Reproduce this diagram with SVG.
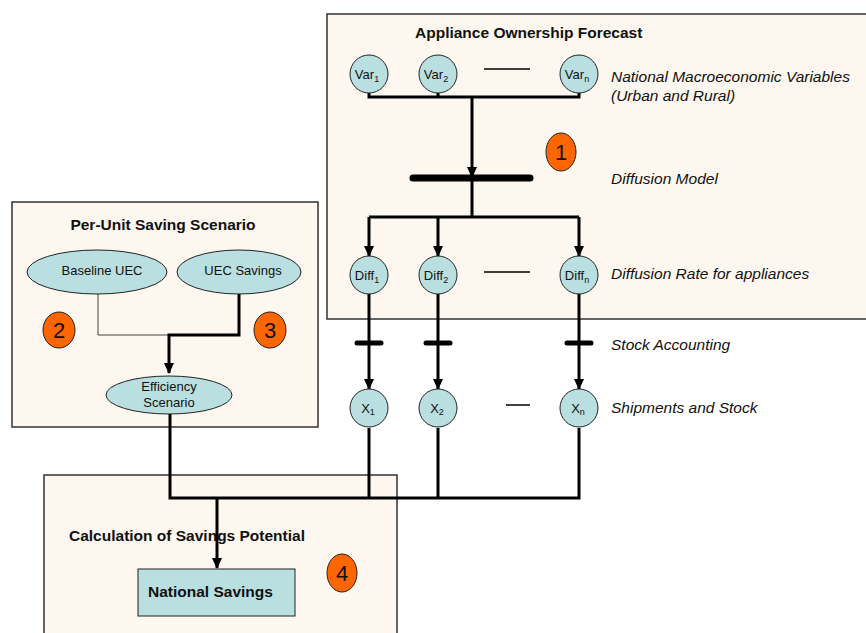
<svg xmlns="http://www.w3.org/2000/svg" width="866" height="633" viewBox="0 0 866 633">
<defs>
<marker id="ah" markerWidth="11" markerHeight="10" refX="10" refY="5" orient="auto" markerUnits="userSpaceOnUse" viewBox="0 0 11 10">
<path d="M0,0 L11,5 L0,10 Z" fill="#000"/>
</marker>
</defs>
<style>
.panel{fill:#fdf7ef;stroke:#333;stroke-width:1.5}
.node{fill:#b9dfe0;stroke:#222;stroke-width:1}
.badge{fill:#ff6600;stroke:#222;stroke-width:1}
.t{font-family:"Liberation Sans",Arial,sans-serif;fill:#111}
.title{font-size:15.5px;font-weight:bold}
.lbl{font-size:13px}
.it{font-size:15.5px;font-style:italic}
.num{font-size:22px}
.w{fill:none;stroke:#000;stroke-width:3}
.thin{fill:none;stroke:#444;stroke-width:1}
.bar{stroke:#000;stroke-width:7;stroke-linecap:round}
.sbar{stroke:#000;stroke-width:5;stroke-linecap:round}
.dash{stroke:#000;stroke-width:1.5}
</style>
<rect width="866" height="633" fill="#fff"/>

<g id="panel-forecast">
<rect class="panel" x="327" y="14" width="545" height="305"/>
<text class="t title" x="415" y="38">Appliance Ownership Forecast</text>
<text class="t it" x="611" y="82">National Macroeconomic Variables</text>
<text class="t it" x="611" y="101">(Urban and Rural)</text>
<text class="t it" x="611" y="184">Diffusion Model</text>
<text class="t it" x="611" y="279">Diffusion Rate for appliances</text>
</g>
<g id="panel-perunit">
<rect class="panel" x="12" y="202" width="306" height="225"/>
<text class="t title" x="163" y="230" text-anchor="middle">Per-Unit Saving Scenario</text>
</g>
<g id="panel-calc">
<rect class="panel" x="44" y="475" width="353" height="170"/>
<text class="t title" x="69" y="541">Calculation of Savings Potential</text>
</g>

<g id="labels-outside">
<text class="t it" x="611" y="350">Stock Accounting</text>
<text class="t it" x="611" y="413">Shipments and Stock</text>
</g>

<g id="connectors">
<path class="w" d="M369,93 V97 H579 V93 M438,93 V97"/>
<path class="w" d="M472,97 V177" marker-end="url(#ah)"/>
<line class="bar" x1="413" y1="178" x2="530" y2="178"/>
<path class="w" d="M472,178 V217 M369,217 H579"/>
<path class="w" d="M369,217 V256" marker-end="url(#ah)"/>
<path class="w" d="M438,217 V256" marker-end="url(#ah)"/>
<path class="w" d="M579,217 V256" marker-end="url(#ah)"/>
<path class="w" d="M369,294 V389" marker-end="url(#ah)"/>
<path class="w" d="M438,294 V389" marker-end="url(#ah)"/>
<path class="w" d="M579,294 V389" marker-end="url(#ah)"/>
<line class="sbar" x1="357" y1="343" x2="381" y2="343"/>
<line class="sbar" x1="426" y1="343" x2="450" y2="343"/>
<line class="sbar" x1="567" y1="343" x2="591" y2="343"/>
<line class="dash" x1="484" y1="69" x2="530" y2="69"/>
<line class="dash" x1="484" y1="272" x2="530" y2="272"/>
<line class="dash" x1="506" y1="405" x2="530" y2="405"/>
<path class="thin" d="M98,294 V335 H170"/>
<path class="w" d="M239,294 V335 H169 V373" marker-end="url(#ah)"/>
<path class="w" d="M170,413 V498 H579 V428 M369,428 V498 M438,428 V498"/>
<path class="w" d="M217,498 V568" marker-end="url(#ah)"/>
</g>

<g id="var1"><circle class="node" cx="369" cy="74" r="19"/><text class="t lbl" x="367" y="79" text-anchor="middle">Var<tspan font-size="9" dy="3">1</tspan></text></g>
<g id="var2"><circle class="node" cx="438" cy="74" r="19"/><text class="t lbl" x="436" y="79" text-anchor="middle">Var<tspan font-size="9" dy="3">2</tspan></text></g>
<g id="varn"><circle class="node" cx="579" cy="74" r="19"/><text class="t lbl" x="577" y="79" text-anchor="middle">Var<tspan font-size="9" dy="3">n</tspan></text></g>

<g id="badge1"><ellipse class="badge" cx="561" cy="152" rx="15" ry="19"/><text class="t num" x="561" y="160" text-anchor="middle">1</text></g>

<g id="diff1"><circle class="node" cx="369" cy="275" r="19"/><text class="t lbl" x="367" y="280" text-anchor="middle">Diff<tspan font-size="9" dy="3">1</tspan></text></g>
<g id="diff2"><circle class="node" cx="438" cy="275" r="19"/><text class="t lbl" x="436" y="280" text-anchor="middle">Diff<tspan font-size="9" dy="3">2</tspan></text></g>
<g id="diffn"><circle class="node" cx="579" cy="275" r="19"/><text class="t lbl" x="577" y="280" text-anchor="middle">Diff<tspan font-size="9" dy="3">n</tspan></text></g>

<g id="x1"><circle class="node" cx="369" cy="408" r="19"/><text class="t lbl" x="368" y="413" text-anchor="middle">X<tspan font-size="9" dy="2">1</tspan></text></g>
<g id="x2"><circle class="node" cx="438" cy="408" r="19"/><text class="t lbl" x="437" y="413" text-anchor="middle">X<tspan font-size="9" dy="2">2</tspan></text></g>
<g id="xn"><circle class="node" cx="579" cy="408" r="19"/><text class="t lbl" x="578" y="413" text-anchor="middle">X<tspan font-size="9" dy="2">n</tspan></text></g>

<g id="baseline-uec"><ellipse class="node" cx="97" cy="272" rx="70" ry="22"/><text class="t lbl" x="102" y="275" text-anchor="middle">Baseline UEC</text></g>
<g id="uec-savings"><ellipse class="node" cx="239" cy="272" rx="62" ry="22"/><text class="t lbl" x="243" y="275" text-anchor="middle">UEC Savings</text></g>
<g id="badge2"><ellipse class="badge" cx="59" cy="330" rx="16" ry="18"/><text class="t num" x="59" y="338" text-anchor="middle">2</text></g>
<g id="badge3"><ellipse class="badge" cx="270" cy="330" rx="16" ry="18"/><text class="t num" x="270" y="338" text-anchor="middle">3</text></g>
<g id="efficiency"><ellipse class="node" cx="169" cy="395" rx="63" ry="19"/><text class="t lbl" x="169" y="391" text-anchor="middle">Efficiency</text><text class="t lbl" x="169" y="407" text-anchor="middle">Scenario</text></g>

<g id="national-savings"><rect class="node" x="138" y="569" width="157" height="47"/><text class="t title" x="148" y="597">National Savings</text></g>
<g id="badge4"><ellipse class="badge" cx="342" cy="573" rx="15" ry="19"/><text class="t num" x="342" y="581" text-anchor="middle">4</text></g>
</svg>
